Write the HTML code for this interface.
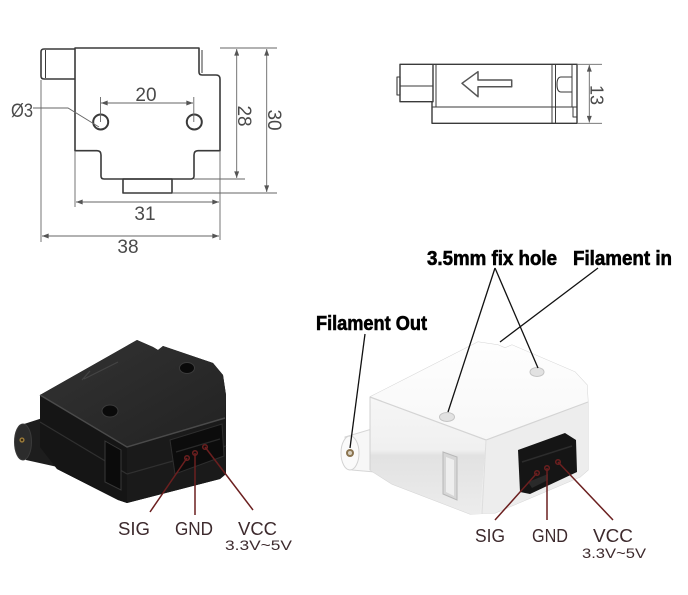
<!DOCTYPE html>
<html><head><meta charset="utf-8"><style>
html,body{margin:0;padding:0;background:#fff;}
svg{display:block;}
</style></head><body>
<svg width="688" height="595" viewBox="0 0 688 595" xmlns="http://www.w3.org/2000/svg" font-family="'Liberation Sans', sans-serif">
<defs>
<marker id="ar" viewBox="0 0 8 6" refX="8" refY="3" markerWidth="7" markerHeight="5" orient="auto-start-reverse" markerUnits="userSpaceOnUse"><path d="M0,0 L8,3 L0,6 z" fill="#555"/></marker>
<linearGradient id="btop" x1="0" y1="0" x2="1" y2="1"><stop offset="0" stop-color="#333"/><stop offset="1" stop-color="#222"/></linearGradient>
<linearGradient id="wtop" x1="0" y1="0" x2="0" y2="1"><stop offset="0" stop-color="#fefefe"/><stop offset="1" stop-color="#f7f7f7"/></linearGradient>
<linearGradient id="wleft" x1="0" y1="0" x2="0" y2="1"><stop offset="0" stop-color="#f6f6f6"/><stop offset="0.45" stop-color="#f0f0f0"/><stop offset="0.5" stop-color="#e2e2e2"/><stop offset="1" stop-color="#ececec"/></linearGradient>
</defs>
<rect width="688" height="595" fill="#fff"/>

<!-- ===== Top-left drawing ===== -->
<g fill="none" stroke="#3a3a3a" stroke-width="1.6" stroke-linejoin="round">
  <path d="M75,49 L44,49 Q41,49 41,52 L41,76 Q41,79 44,79 L75,79"/>
  <line x1="45.5" y1="50" x2="45.5" y2="78" stroke-width="1"/>
  <path d="M75,48 L199,48 L199,72 Q199,75 202,75 L216,75 Q220,75 220,79 L220,150.7 L198,150.7 Q194,150.7 194,155 L194,176 Q194,179 191,179 L104,179 Q101,179 101,176 L101,155 Q101,150.7 97,150.7 L75,150.7 Z"/>
  <line x1="202" y1="50" x2="202" y2="73" stroke-width="1"/>
  <rect x="123" y="179" width="49" height="14"/>
  <circle cx="100.7" cy="122" r="7.5" stroke-width="2"/>
  <circle cx="194.3" cy="122" r="7.5" stroke-width="2"/>
</g>
<g fill="none" stroke="#666" stroke-width="0.9">
  <line x1="220" y1="48" x2="277" y2="48"/>
  <line x1="194" y1="179" x2="245" y2="179"/>
  <line x1="172" y1="193" x2="277" y2="193"/>
  <line x1="75" y1="151" x2="75" y2="207"/>
  <line x1="220" y1="151" x2="220" y2="240"/>
  <line x1="41" y1="80" x2="41" y2="242"/>
  <line x1="236.7" y1="49" x2="236.7" y2="178" marker-start="url(#ar)" marker-end="url(#ar)"/>
  <line x1="266.7" y1="49" x2="266.7" y2="192" marker-start="url(#ar)" marker-end="url(#ar)"/>
  <line x1="76" y1="202" x2="219" y2="202" marker-start="url(#ar)" marker-end="url(#ar)"/>
  <line x1="42" y1="236" x2="219" y2="236" marker-start="url(#ar)" marker-end="url(#ar)"/>
  <line x1="101" y1="103" x2="193" y2="103" marker-start="url(#ar)" marker-end="url(#ar)"/>
  <line x1="100.5" y1="97" x2="100.5" y2="122"/>
  <line x1="193.8" y1="97" x2="193.8" y2="122"/>
  <polyline points="33,108 68,108 99,127"/>
</g>
<g fill="#4a4a4a" font-size="19">
  <text x="146" y="101" text-anchor="middle">20</text>
  <text x="11" y="117" textLength="22" lengthAdjust="spacingAndGlyphs">Ø3</text>
  <text x="145" y="220" text-anchor="middle">31</text>
  <text x="128" y="253" text-anchor="middle">38</text>
  <text transform="translate(245,116) rotate(90)" y="7" text-anchor="middle">28</text>
  <text transform="translate(275,120) rotate(90)" y="7" text-anchor="middle">30</text>
</g>

<!-- ===== Top-right drawing ===== -->
<g fill="none" stroke="#3a3a3a" stroke-width="1.4" stroke-linejoin="round">
  <path d="M433,64.3 L400,64.3 L400,101.7 L433,101.7"/>
  <rect x="397" y="77" width="3" height="18" stroke-width="1.1"/>
  <line x1="400" y1="86" x2="433" y2="86" stroke-width="1"/>
  <path d="M433,64.3 L577,64.3 L577,123.3 L432,123.3 L432,101.7 L433,101.7 L433,64.3"/>
  <line x1="436" y1="65" x2="436" y2="107" stroke-width="1"/>
  <line x1="432" y1="107" x2="577" y2="107" stroke-width="1"/>
  <line x1="552" y1="65" x2="552" y2="123" stroke-width="1"/>
  <line x1="555.5" y1="65" x2="555.5" y2="123" stroke-width="1"/>
  <path d="M572,77 L561,77 Q557,77 557,84.5 Q557,92 561,92 L572,92" stroke-width="1.1"/>
  <line x1="572" y1="65" x2="572" y2="107" stroke-width="1"/>
  <path d="M573,107 L573,117 L577,117" stroke-width="1"/>
  <path d="M462,83.3 L478,71.7 L478,80 L511.7,80 L511.7,86.7 L478,86.7 L478,96.7 Z" stroke="#555" stroke-width="1.5"/>
</g>
<g fill="none" stroke="#666" stroke-width="0.9">
  <line x1="577" y1="64.3" x2="602" y2="64.3"/>
  <line x1="577" y1="123.3" x2="602" y2="123.3"/>
  <line x1="589.3" y1="65" x2="589.3" y2="122.5" marker-start="url(#ar)" marker-end="url(#ar)"/>
</g>
<text transform="translate(597,95) rotate(90)" y="6.5" text-anchor="middle" fill="#4a4a4a" font-size="18">13</text>

<!-- ===== Black sensor ===== -->
<g>
  <path d="M24,424 L55,414 L62,420 L62,468 L26,460 Z" fill="#1d1d1d"/>
  <ellipse cx="23" cy="442" rx="8.5" ry="18" fill="#2c2c2c" stroke="#3a3a3a" stroke-width="1"/>
  <circle cx="22" cy="440" r="2.6" fill="#9a7a3a"/>
  <circle cx="22" cy="440" r="1.2" fill="#3a2a10"/>
  <polygon points="40,395 137,340 153,347 158,350 163,346 213,363 223,375 226,395 226,474 220,479 127,503 118,500 57,469 40,447" fill="#1b1b1b"/>
  <polygon points="40,395 137,340 153,347 158,350 163,346 213,363 223,375 226,395 225,418 127,447" fill="url(#btop)"/>
  <polygon points="40,395 127,447 127,503 118,500 57,469 40,447" fill="#151515"/>
  <polygon points="127,447 225,418 226,474 220,479 127,503" fill="#1a1a1a"/>
  <polyline points="40,395 127,447 225,418" fill="none" stroke="#4a4a4a" stroke-width="1.5"/>
  <line x1="40" y1="422" x2="127" y2="474" stroke="#303030" stroke-width="1.2"/>
  <line x1="127" y1="474" x2="226" y2="446" stroke="#303030" stroke-width="1.2"/>
  <ellipse cx="110" cy="411" rx="8" ry="6" fill="#0a0a0a" stroke="#3c3c3c" stroke-width="1"/>
  <ellipse cx="187" cy="368" rx="7.5" ry="5.5" fill="#0a0a0a" stroke="#3c3c3c" stroke-width="1"/>
  <path d="M82,380 L90,371 M84,379 L118,362" stroke="#444" stroke-width="1.2" fill="none"/>
  <polygon points="105,441 121,450 121,490 105,482" fill="#0b0b0b" stroke="#383838" stroke-width="1"/>
  <polygon points="170,440 222,424 224,456 175,474" fill="#0c0c0c" stroke="#2e2e2e" stroke-width="1"/>
  <line x1="176" y1="452" x2="220" y2="439" stroke="#2a2a2a" stroke-width="1.2"/>
</g>

<!-- ===== White sensor ===== -->
<g>
  <path d="M345,437 L392,423 L398,428 L398,474 L352,470 Z" fill="#f7f7f7" stroke="#d6d6d6" stroke-width="1"/>
  <polygon points="370,397 478,342 498,345 505,348 512,345 575,372 587,385 588,402 588,470 580,477 495,513 470,514 392,484 370,470" fill="#f4f4f4" stroke="#d4d4d4" stroke-width="1"/>
  <polygon points="370,397 478,342 498,345 505,348 512,345 575,372 587,385 588,402 486,440" fill="url(#wtop)"/>
  <polygon points="370,397 486,440 480,514 470,514 392,484 370,470" fill="url(#wleft)"/>
  <polygon points="486,440 588,402 588,470 580,477 495,513 480,514" fill="#ededed"/>
  <polyline points="370,397 486,440 588,402" fill="none" stroke="#d4d4d4" stroke-width="1.2"/>
  <line x1="370" y1="397" x2="370" y2="470" stroke="#d0d0d0" stroke-width="1"/>
  <line x1="486" y1="440" x2="482" y2="514" stroke="#dedede" stroke-width="1"/>
  <ellipse cx="350" cy="453" rx="9" ry="17" fill="#fafafa" stroke="#d2d2d2" stroke-width="1"/>
  <circle cx="350" cy="453" r="4" fill="#8a7450"/>
  <circle cx="350" cy="453" r="2" fill="#d8d0c0"/>
  <ellipse cx="447" cy="417" rx="7.5" ry="4.5" fill="#e2e2e2" stroke="#c4c4c4" stroke-width="1"/>
  <ellipse cx="537" cy="372" rx="7" ry="4.5" fill="#e2e2e2" stroke="#c4c4c4" stroke-width="1"/>
  <polygon points="443,452 457,457 457,500 443,494" fill="#d6d6d6" stroke="#b8b8b8" stroke-width="1"/>
  <polygon points="446,457 454,460 454,496 446,492" fill="#eeeeee"/>
  <polygon points="518,450 565,433 576,440 577,472 530,494 520,492" fill="#151515"/>
  <line x1="522" y1="462" x2="572" y2="446" stroke="#2c2c2c" stroke-width="1.5"/>
  <polygon points="528,482 548,474 548,480 532,488" fill="#2a2a2a"/>
</g>

<!-- ===== Leader lines & bold labels ===== -->
<g stroke="#111" stroke-width="1.3" fill="none">
  <line x1="495" y1="268" x2="448" y2="412"/>
  <line x1="495" y1="268" x2="538" y2="368"/>
  <line x1="598" y1="268" x2="500" y2="342"/>
  <line x1="365" y1="334" x2="350" y2="448"/>
</g>
<g font-family="'Liberation Sans Narrow', 'Liberation Sans', sans-serif" font-weight="bold" font-size="20" fill="#000" stroke="#000" stroke-width="0.6">
  <text x="427" y="265" textLength="130" lengthAdjust="spacingAndGlyphs">3.5mm fix hole</text>
  <text x="573" y="265" textLength="99" lengthAdjust="spacingAndGlyphs">Filament in</text>
  <text x="316" y="330" textLength="111" lengthAdjust="spacingAndGlyphs">Filament Out</text>
</g>

<!-- ===== Pin labels ===== -->
<g stroke="#6b1f1f" stroke-width="1.5" fill="none">
  <line x1="187" y1="458" x2="150" y2="512"/>
  <line x1="195" y1="453" x2="195" y2="515"/>
  <line x1="205" y1="447" x2="253" y2="510"/>
  <circle cx="187" cy="458" r="2.3"/>
  <circle cx="195" cy="453" r="2.3"/>
  <circle cx="205" cy="447" r="2.3"/>
  <line x1="537" y1="473" x2="495" y2="520"/>
  <line x1="547" y1="468" x2="547" y2="520"/>
  <line x1="558" y1="462" x2="613" y2="520"/>
  <circle cx="537" cy="473" r="2.3"/>
  <circle cx="547" cy="468" r="2.3"/>
  <circle cx="558" cy="462" r="2.3"/>
</g>
<g fill="#3d2a2d" font-size="18">
  <text x="118" y="535" textLength="32" lengthAdjust="spacingAndGlyphs">SIG</text>
  <text x="175" y="535" textLength="38" lengthAdjust="spacingAndGlyphs">GND</text>
  <text x="238" y="535" textLength="39" lengthAdjust="spacingAndGlyphs">VCC</text>
  <text x="225" y="550" font-size="13.5" textLength="67" lengthAdjust="spacingAndGlyphs">3.3V~5V</text>
  <text x="475" y="542" textLength="30" lengthAdjust="spacingAndGlyphs">SIG</text>
  <text x="532" y="542" textLength="36" lengthAdjust="spacingAndGlyphs">GND</text>
  <text x="593" y="542" textLength="40" lengthAdjust="spacingAndGlyphs">VCC</text>
  <text x="582" y="558" font-size="13.5" textLength="64" lengthAdjust="spacingAndGlyphs">3.3V~5V</text>
</g>
</svg>
</body></html>
